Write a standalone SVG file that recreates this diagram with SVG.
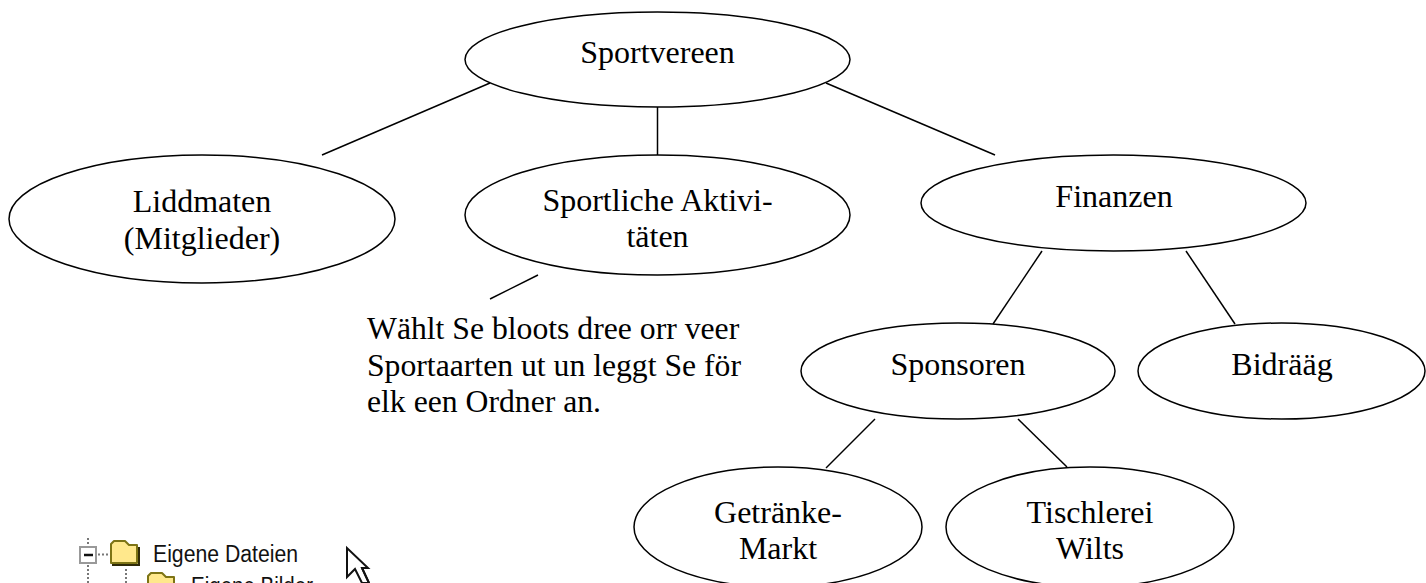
<svg xmlns="http://www.w3.org/2000/svg" width="1426" height="583" viewBox="0 0 1426 583">
<style>
.n{fill:#fff;stroke:#000;stroke-width:1.5}
.c line{stroke:#000;stroke-width:1.5}
text{font-family:"Liberation Serif","Times New Roman",serif;font-size:32px;fill:#000}
.m{text-anchor:middle}
#note text{font-size:31.7px}
#tree text{font-family:"Liberation Sans",Arial,sans-serif;font-size:23px;fill:#111}
.dot{stroke:#777;stroke-width:2;stroke-dasharray:2 2;fill:none}
.fold{fill:#ffe88c;stroke:#7d7415;stroke-width:2;stroke-linejoin:round}
.shade{fill:none;stroke:#2e2a08;stroke-width:2}
</style>
<rect width="1426" height="583" fill="#fff"/>
<g id="connectors" class="c">
<line x1="490" y1="83" x2="322" y2="155"/>
<line x1="657.500" y1="107" x2="657.500" y2="155"/>
<line x1="826" y1="83" x2="995" y2="155"/>
<line x1="538" y1="275" x2="490" y2="299"/>
<line x1="1042" y1="251" x2="993" y2="324"/>
<line x1="1186" y1="251" x2="1235" y2="324"/>
<line x1="875" y1="419" x2="826" y2="468"/>
<line x1="1018" y1="419" x2="1067" y2="467"/>
</g>
<g id="n-sportvereen"><ellipse class="n" cx="657.500" cy="59.500" rx="192.500" ry="47.500"/><text class="m" x="657.500" y="63">Sportvereen</text></g>
<g id="n-liddmaten"><ellipse class="n" cx="202" cy="219" rx="193" ry="64"/><text class="m" x="202" y="212">Liddmaten</text><text class="m" x="202" y="249">(Mitglieder)</text></g>
<g id="n-sportliche"><ellipse class="n" cx="657.500" cy="215" rx="192.500" ry="60"/><text class="m" x="657.500" y="211">Sportliche Aktivi-</text><text class="m" x="657.500" y="247">täten</text></g>
<g id="n-finanzen"><ellipse class="n" cx="1113.500" cy="203" rx="192.500" ry="48"/><text class="m" x="1114" y="207">Finanzen</text></g>
<g id="n-sponsoren"><ellipse class="n" cx="958" cy="371" rx="157" ry="48"/><text class="m" x="958" y="375">Sponsoren</text></g>
<g id="n-bidraag"><ellipse class="n" cx="1281.500" cy="371" rx="143.500" ry="48"/><text class="m" x="1282" y="375">Bidrääg</text></g>
<g id="n-getraenke"><ellipse class="n" cx="778" cy="527" rx="144" ry="60"/><text class="m" x="778" y="523">Getränke-</text><text class="m" x="778" y="559">Markt</text></g>
<g id="n-tischlerei"><ellipse class="n" cx="1090" cy="527" rx="144" ry="60"/><text class="m" x="1090" y="523">Tischlerei</text><text class="m" x="1090" y="559">Wilts</text></g>
<g id="note"><text x="367" y="339">Wählt Se bloots dree orr veer</text><text x="367" y="376">Sportaarten ut un leggt Se för</text><text x="367" y="412">elk een Ordner an.</text></g>
<g id="tree">
<path class="dot" d="M88 538V545M88 565V583M98 554.500H110M126 569V583"/>
<rect x="80" y="547" width="16" height="16" fill="#fff" stroke="#999" stroke-width="2"/>
<line x1="84" y1="555" x2="93" y2="555" stroke="#111" stroke-width="2.500"/>
<path class="fold" d="M111 563V544L114 541H125L129 545H137V563Z"/>
<path class="shade" d="M139 547V565H112"/>
<path class="fold" d="M148 584V576L151 573H162L166 577H174V584Z"/>
<text x="153" y="562" textLength="145" lengthAdjust="spacingAndGlyphs">Eigene Dateien</text>
<text x="191" y="594" textLength="122" lengthAdjust="spacingAndGlyphs">Eigene Bilder</text>
</g>
<g id="cursor">
<path d="M347 548V577L355 569L362 583H369L362 568H368Z" fill="#fff" stroke="#111" stroke-width="2"/>
<path d="M362 568L369 583" fill="none" stroke="#111" stroke-width="2"/>
</g>
</svg>
